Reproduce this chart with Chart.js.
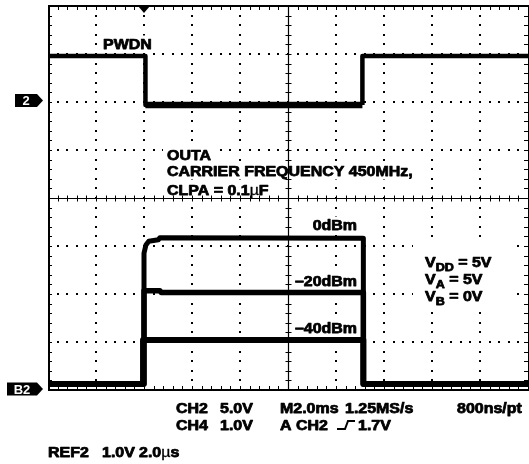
<!DOCTYPE html>
<html>
<head>
<meta charset="utf-8">
<script src="https://cdn.jsdelivr.net/npm/chart.js@4.4.1/dist/chart.umd.min.js"></script>
<style>
  html, body { margin: 0; padding: 0; background: #fff; }
  canvas { display: block; }
</style>
</head>
<body>
<canvas id="scope" width="529" height="464"></canvas>
<script>
// Time axis in screen divisions (0..10), amplitude in divisions (-4..4, centre line = 0)
const pwdnTime   = [0, 2.03, 2.03, 6.55, 6.55, 10];
const pwdnLevel  = [2.96, 2.96, 1.94, 1.94, 2.96, 2.96];

const out0Time   = [0, 2.0, 2.0, 2.04, 2.1, 2.3, 2.33, 6.57, 6.57, 10];
const out0Level  = [-3.875, -3.875, -1.15, -0.98, -0.9, -0.87, -0.83, -0.84, -3.875, -3.875];

const out20Time  = [0, 2.0, 2.0, 2.33, 2.36, 6.57, 6.57, 10];
const out20Level = [-3.875, -3.875, -1.93, -1.93, -1.97, -1.97, -3.875, -3.875];

const out40Time  = [0, 1.98, 1.98, 6.57, 6.57, 10];
const out40Level = [-3.875, -3.875, -2.96, -2.96, -3.875, -3.875];

const timeDivisions = 10;
const ampDivisions = 8;
const minorPerDiv = 5;

const setupTitle   = ['OUTA', 'CARRIER FREQUENCY 450MHz,', 'CLPA = 0.1\u00B5F'];
const levelLabels  = ['0dBm', '\u201320dBm', '\u201340dBm'];
const supplyLabels = [['V', 'DD', ' = 5V'], ['V', 'A', ' = 5V'], ['V', 'B', ' = 0V']];

const FONT = '"Liberation Sans", Arial, Helvetica, sans-serif';
const STRETCH = 1.14;

function pts(xs, ys) { return xs.map((v, i) => ({ x: v, y: ys[i] })); }

// Heavy, slightly widened text like the scope's screen font.
// A "µ" is drawn in the regular weight.
function say(ctx, str, x, y, size, align, measureOnly) {
  ctx.save();
  ctx.textBaseline = 'alphabetic';
  ctx.textAlign = 'left';
  const parts = str.split(/(\u00B5)/).filter(s => s.length);
  const fontFor = p => (p === '\u00B5' ? '' : 'bold ') + size + 'px ' + FONT;
  let w = 0;
  parts.forEach(p => { ctx.font = fontFor(p); w += ctx.measureText(p).width; });
  let start = x;
  if (align === 'right') start = x - w * STRETCH;
  if (!measureOnly) {
    ctx.translate(start, y);
    ctx.scale(STRETCH, 1);
    ctx.strokeStyle = ctx.fillStyle;
    ctx.lineJoin = 'round';
    let cx = 0;
    parts.forEach(p => {
      ctx.font = fontFor(p);
      ctx.lineWidth = p === '\u00B5' ? 0.3 : 0.75;
      ctx.fillText(p, cx, 0);
      ctx.strokeText(p, cx, 0);
      cx += ctx.measureText(p).width;
    });
  }
  ctx.restore();
  return { left: start, width: w * STRETCH };
}

// white backing so the dotted grid stops short of a label
function clearBehind(ctx, str, x, y, size, align) {
  const m = say(ctx, str, x, y, size, align, true);
  ctx.fillStyle = '#fff';
  ctx.fillRect(m.left - 4, y - size + 1, m.width + 8, size + 3);
}

function sub(ctx, main, s, rest, x, y) {
  let cx = x;
  cx += say(ctx, main, cx, y, 14).width;
  cx += say(ctx, s, cx, y + 4, 11).width;
  say(ctx, rest, cx, y, 14);
}

const insideLabels = [
  ['PWDN', 103, 48.5],
  [setupTitle[0], 167, 159.5],
  [setupTitle[1], 167, 175.5],
  [setupTitle[2], 167, 195]
];
const levelPos = [229.5, 286, 332.5];

const graticule = {
  id: 'graticule',
  beforeDatasetsDraw(chart) {
    const { ctx, chartArea: a, scales: { x, y } } = chart;
    const step = 1 / minorPerDiv;
    ctx.save();
    ctx.fillStyle = '#000';
    // dotted division lines
    for (let i = 1; i < timeDivisions; i++) {
      if (i === timeDivisions / 2) continue;
      const px = Math.round(x.getPixelForValue(i));
      for (let j = 1; j < ampDivisions * minorPerDiv; j++) {
        const py = Math.round(y.getPixelForValue(-ampDivisions / 2 + j * step));
        ctx.fillRect(px - 1, py - 1, 2, 2);
      }
    }
    for (let j = -ampDivisions / 2 + 1; j < ampDivisions / 2; j++) {
      if (j === 0) continue;
      const py = Math.round(y.getPixelForValue(j));
      for (let i = 1; i < timeDivisions * minorPerDiv; i++) {
        const px = Math.round(x.getPixelForValue(i * step));
        ctx.fillRect(px - 1, py - 1, 2, 2);
      }
    }
    // label backings
    insideLabels.forEach(([t, lx, ly]) => clearBehind(ctx, t, lx, ly, 14));
    levelLabels.forEach((t, k) => clearBehind(ctx, t, 357, levelPos[k], 14, 'right'));
    ctx.fillStyle = '#fff';
    ctx.fillRect(413, 244, 97, 62);

    // centre cross with minor ticks
    ctx.strokeStyle = '#000';
    ctx.lineWidth = 1.2;
    const cx = Math.round(x.getPixelForValue(timeDivisions / 2)) + 0.5;
    const cy = Math.round(y.getPixelForValue(0)) + 0.5;
    ctx.beginPath();
    ctx.moveTo(cx, a.top); ctx.lineTo(cx, a.bottom);
    ctx.moveTo(a.left, cy); ctx.lineTo(a.right, cy);
    ctx.stroke();
    ctx.lineWidth = 1;
    ctx.beginPath();
    for (let i = 1; i < timeDivisions * minorPerDiv; i++) {
      const px = Math.round(x.getPixelForValue(i * step)) + 0.5;
      ctx.moveTo(px, cy - 3); ctx.lineTo(px, cy + 3);
      ctx.moveTo(px, a.top); ctx.lineTo(px, a.top + 4);
      ctx.moveTo(px, a.bottom); ctx.lineTo(px, a.bottom - 4);
    }
    for (let j = 1; j < ampDivisions * minorPerDiv; j++) {
      const py = Math.round(y.getPixelForValue(-ampDivisions / 2 + j * step)) + 0.5;
      ctx.moveTo(cx - 3, py); ctx.lineTo(cx + 3, py);
      ctx.moveTo(a.left, py); ctx.lineTo(a.left + 4, py);
      ctx.moveTo(a.right, py); ctx.lineTo(a.right - 4, py);
    }
    ctx.stroke();
    ctx.restore();
  },
  afterDatasetsDraw(chart) {
    const { ctx, chartArea: a, scales: { x, y } } = chart;
    ctx.save();
    // screen frame
    ctx.strokeStyle = '#000';
    ctx.lineWidth = 2;
    ctx.strokeRect(a.left + 1, a.top, a.right - a.left, a.bottom - a.top);

    // trigger position marker
    const tx = x.getPixelForValue(2);
    ctx.fillStyle = '#000';
    ctx.beginPath();
    ctx.moveTo(tx - 6, a.top); ctx.lineTo(tx + 6, a.top); ctx.lineTo(tx, a.top + 7);
    ctx.closePath(); ctx.fill();

    // channel reference markers
    const marker = (label, left, cyv) => {
      ctx.fillStyle = '#000';
      ctx.beginPath();
      ctx.moveTo(left, cyv - 6.5);
      ctx.lineTo(37, cyv - 6.5);
      ctx.lineTo(43, cyv);
      ctx.lineTo(37, cyv + 6.5);
      ctx.lineTo(left, cyv + 6.5);
      ctx.closePath(); ctx.fill();
      ctx.fillStyle = '#fff';
      ctx.font = 'bold 13px ' + FONT;
      ctx.textAlign = 'center';
      ctx.textBaseline = 'middle';
      ctx.fillText(label, (left + 37) / 2, cyv + 1);
    };
    marker('2', 15, y.getPixelForValue(2) - 1.5);
    marker('B2', 7, y.getPixelForValue(-4) - 1);

    ctx.fillStyle = '#000';
    insideLabels.forEach(([t, lx, ly]) => say(ctx, t, lx, ly, 14));
    levelLabels.forEach((t, k) => say(ctx, t, 357, levelPos[k], 14, 'right'));

    sub(ctx, ...supplyLabels[0], 425, 267);
    sub(ctx, ...supplyLabels[1], 425, 284);
    sub(ctx, ...supplyLabels[2], 425, 300.5);
    ctx.restore();
  },
  afterDraw(chart) {
    const { ctx } = chart;
    ctx.save();
    ctx.fillStyle = '#000';
    say(ctx, 'CH2', 176, 413, 14);
    say(ctx, '5.0V', 220, 413, 14);
    say(ctx, 'M2.0ms', 280, 413, 14);
    say(ctx, '1.25MS/s', 345, 413, 14);
    say(ctx, '800ns/pt', 457, 413, 14);
    say(ctx, 'CH4', 176, 430, 14);
    say(ctx, '1.0V', 220, 430, 14);
    say(ctx, 'A', 280, 430, 14);
    say(ctx, 'CH2', 296, 430, 14);
    say(ctx, '1.7V', 358, 430, 14);
    say(ctx, 'REF2', 48, 457, 14);
    say(ctx, '1.0V', 102, 457, 14);
    say(ctx, '2.0\u00B5s', 139, 457, 14);
    // rising-edge trigger slope symbol
    ctx.strokeStyle = '#000';
    ctx.lineWidth = 2;
    ctx.beginPath();
    ctx.moveTo(337, 429); ctx.lineTo(345, 429); ctx.lineTo(348, 421); ctx.lineTo(355, 421);
    ctx.stroke();
    ctx.restore();
  }
};

const trace = (data, width) => ({
  data,
  borderColor: '#000',
  borderWidth: width,
  pointRadius: 0,
  tension: 0,
  fill: false,
  borderJoinStyle: 'round',
  borderCapStyle: 'butt'
});

const pwdnTrace = trace(pts(pwdnTime, pwdnLevel), 4.5);
pwdnTrace.segment = {
  borderWidth: c => (c.p0.parsed.y < 2.5 && c.p1.parsed.y < 2.5) ? 6.5 : 4.5
};

new Chart(document.getElementById('scope'), {
  type: 'line',
  data: {
    datasets: [
      pwdnTrace,
      trace(pts(out0Time, out0Level), 5),
      trace(pts(out20Time, out20Level), 5.5),
      trace(pts(out40Time, out40Level), 6),
    ]
  },
  options: {
    responsive: false,
    devicePixelRatio: 1,
    animation: false,
    events: [],
    layout: { padding: { left: 48, top: 6, right: 1, bottom: 74 } },
    scales: {
      x: { type: 'linear', min: 0, max: timeDivisions, display: false },
      y: { type: 'linear', min: -ampDivisions / 2, max: ampDivisions / 2, display: false }
    },
    plugins: { legend: { display: false }, tooltip: { enabled: false } }
  },
  plugins: [graticule]
});
</script>
</body>
</html>
